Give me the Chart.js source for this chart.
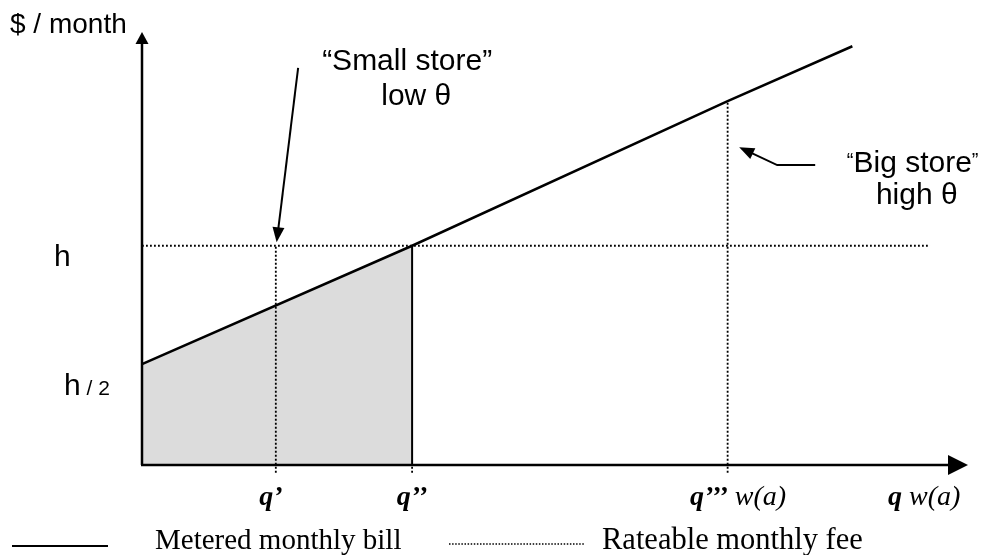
<!DOCTYPE html>
<html><head><meta charset="utf-8">
<script src="https://cdn.jsdelivr.net/npm/chart.js@4.4.0/dist/chart.umd.min.js"></script>
<style>html,body{margin:0;padding:0;background:#fff;}#wrap{width:991px;height:555px;position:relative;}</style>
</head><body><div id="wrap"><canvas id="c" width="991" height="555"></canvas></div>
<script>
// ---- data (quantity q on x, $/month on y, h = 1) ----
const meteredQ = [0, 3.27, 7.09, 8.6];
const meteredBill = [0.46, 1.0, 1.66, 1.91];
const shadedQ = [0, 3.27];
const shadedBill = [0.46, 1.0];
const rateableFee = [1.0, 1.0];
const rateableQ = [0, 9.54];
const markerQ = [1.62, 3.27, 7.09];
const markerTop = [1.0, 0.0, 1.66];
const markerLabels = ["q’", "q’’", "q’’’"];
const yTickValues = [1.0, 0.5];
const yTickLabels = ["h", "h / 2"];
const legendLabels = ["Metered monthly bill", "Rateable monthly fee"];

const X_MAX = 10, Y_MAX = 1.975, BELOW = -0.035;

const pts = (xs, ys) => xs.map((x, i) => ({x, y: ys[i]}));
const DOT = [1.8, 2.2];

const datasets = [
  {data: pts(meteredQ, meteredBill), borderColor: '#000', borderWidth: 2.5, pointRadius: 0, showLine: true, order: 1, clip: false},
  {data: [{x: shadedQ[1], y: 0}, {x: shadedQ[1], y: shadedBill[1]}], borderColor: '#000', borderWidth: 2, pointRadius: 0, showLine: true, order: 2, clip: false},
  {data: pts(rateableQ, rateableFee), borderColor: '#000', borderWidth: 1.8, borderDash: DOT, pointRadius: 0, showLine: true, order: 3, clip: false},
  {data: pts(shadedQ, shadedBill), borderWidth: 0, borderColor: 'rgba(0,0,0,0)', backgroundColor: '#dcdcdc', fill: 'origin', pointRadius: 0, showLine: true, order: 10}
];
markerQ.forEach((q, i) => {
  datasets.push({data: [{x: q, y: BELOW}, {x: q, y: markerTop[i]}], borderColor: '#000', borderWidth: 1.8, borderDash: DOT, pointRadius: 0, showLine: true, order: 4, clip: false});
});

function arrowHead(ctx, tx, ty, fx, fy, len, half) {
  const a = Math.atan2(ty - fy, tx - fx);
  ctx.beginPath();
  ctx.moveTo(tx, ty);
  ctx.lineTo(tx - len * Math.cos(a) + half * Math.sin(a), ty - len * Math.sin(a) - half * Math.cos(a));
  ctx.lineTo(tx - len * Math.cos(a) - half * Math.sin(a), ty - len * Math.sin(a) + half * Math.cos(a));
  ctx.closePath();
  ctx.fill();
}
function toward(tx, ty, fx, fy, d) {
  const a = Math.atan2(fy - ty, fx - tx);
  return [tx + d * Math.cos(a), ty + d * Math.sin(a)];
}

const overlay = {
  id: 'overlay',
  afterDatasetsDraw(chart) {
    const ctx = chart.ctx, xs = chart.scales.x, ys = chart.scales.y;
    const X = v => xs.getPixelForValue(v), Y = v => ys.getPixelForValue(v);
    const ca = chart.chartArea;
    ctx.save();
    ctx.fillStyle = '#000'; ctx.strokeStyle = '#000';
    // axes
    ctx.lineWidth = 2.5;
    ctx.beginPath(); ctx.moveTo(X(0), Y(0)); ctx.lineTo(X(0), ca.top + 10); ctx.stroke();
    arrowHead(ctx, X(0), ca.top, X(0), ca.top + 20, 12, 6.5);
    ctx.beginPath(); ctx.moveTo(X(0) - 1, Y(0)); ctx.lineTo(ca.right - 12, Y(0)); ctx.stroke();
    arrowHead(ctx, ca.right, Y(0), ca.right - 20, Y(0), 20, 10);

    // annotation arrows
    ctx.lineWidth = 2;
    const sA = [[1.89, 1.811], [1.63, 1.016]];
    let p0 = [X(sA[0][0]), Y(sA[0][1])], p1 = [X(sA[1][0]), Y(sA[1][1])];
    let e = toward(p1[0], p1[1], p0[0], p0[1], 8);
    ctx.beginPath(); ctx.moveTo(p0[0], p0[1]); ctx.lineTo(e[0], e[1]); ctx.stroke();
    arrowHead(ctx, p1[0], p1[1], p0[0], p0[1], 15, 6);
    const bA = [[8.15, 1.368], [7.69, 1.368], [7.23, 1.449]];
    const b0 = [X(bA[0][0]), Y(bA[0][1])], b1 = [X(bA[1][0]), Y(bA[1][1])], b2 = [X(bA[2][0]), Y(bA[2][1])];
    e = toward(b2[0], b2[1], b1[0], b1[1], 8);
    ctx.beginPath(); ctx.moveTo(b0[0], b0[1]); ctx.lineTo(b1[0], b1[1]); ctx.lineTo(e[0], e[1]); ctx.stroke();
    arrowHead(ctx, b2[0], b2[1], b1[0], b1[1], 15, 6);

    // texts (sans)
    ctx.textBaseline = 'middle';
    ctx.textAlign = 'left';
    ctx.font = '28px "Liberation Sans", Arial, sans-serif';
    ctx.fillText('$ / month', 10, 25);
    ctx.textAlign = 'center';
    ctx.font = '30px "Liberation Sans", Arial, sans-serif';
    ctx.fillText('“Small store”', X(3.21), Y(1.838));
    ctx.fillText('low θ', X(3.32), Y(1.679));
    // Big store with small quotes
    const bx = X(9.33), by = Y(1.372);
    const main = 'Big store';
    const wMain = ctx.measureText(main).width;
    ctx.font = '20px "Liberation Sans", Arial, sans-serif';
    const wq = ctx.measureText('“').width;
    const total = wMain + 2 * wq;
    let sx = bx - total / 2;
    ctx.textAlign = 'left';
    ctx.fillText('“', sx, by - 3);
    ctx.font = '30px "Liberation Sans", Arial, sans-serif';
    ctx.fillText(main, sx + wq, by);
    ctx.font = '20px "Liberation Sans", Arial, sans-serif';
    ctx.fillText('”', sx + wq + wMain, by - 3);
    ctx.textAlign = 'center';
    ctx.font = '30px "Liberation Sans", Arial, sans-serif';
    ctx.fillText('high θ', X(9.38), Y(1.23));

    // y tick labels
    ctx.textAlign = 'left';
    ctx.textBaseline = 'alphabetic';
    ctx.font = '30px "Liberation Sans", Arial, sans-serif';
    ctx.fillText(yTickLabels[0], 54, Y(yTickValues[0]) + 20);
    const parts = yTickLabels[1].split(' / ');
    const hy = Y(yTickValues[1]) + 40;
    ctx.fillText(parts[0], 64, hy);
    const hw = ctx.measureText(parts[0]).width;
    ctx.font = '21px "Liberation Sans", Arial, sans-serif';
    ctx.fillText(' / ' + parts[1], 64 + hw, hy);

    // x labels
    const bi = 'bold italic 28px "Liberation Serif", "Times New Roman", serif';
    const it = 'italic 28px "Liberation Serif", "Times New Roman", serif';
    const ly = 505;
    ctx.textAlign = 'center';
    ctx.font = bi;
    ctx.fillText(markerLabels[0], X(markerQ[0]) - 5, ly);
    ctx.fillText(markerLabels[1], X(markerQ[1]), ly);
    ctx.textAlign = 'left';
    ctx.fillText(markerLabels[2], 690, ly);
    const w3 = ctx.measureText(markerLabels[2]).width;
    ctx.font = it;
    ctx.fillText(' w(a)', 690 + w3, ly);
    ctx.font = bi;
    ctx.fillText('q', 888, ly);
    const wqq = ctx.measureText('q').width;
    ctx.font = it;
    ctx.fillText(' w(a)', 888 + wqq, ly);

    // legend
    ctx.lineWidth = 2;
    ctx.setLineDash([]);
    ctx.beginPath(); ctx.moveTo(12, 546); ctx.lineTo(108, 546); ctx.stroke();
    ctx.lineWidth = 1.5;
    ctx.setLineDash([1.5, 1.6]);
    ctx.beginPath(); ctx.moveTo(449, 544); ctx.lineTo(584, 544); ctx.stroke();
    ctx.setLineDash([]);
    ctx.font = '29px "Liberation Serif", "Times New Roman", serif';
    ctx.fillText(legendLabels[0], 155, 549);
    ctx.font = '30.5px "Liberation Serif", "Times New Roman", serif';
    ctx.fillText(legendLabels[1], 602, 549);
    ctx.restore();
  }
};

new Chart(document.getElementById('c'), {
  type: 'scatter',
  data: {datasets},
  options: {
    responsive: false, animation: false, devicePixelRatio: 1,
    layout: {padding: {left: 142, right: 23, top: 32, bottom: 90}},
    scales: {
      x: {type: 'linear', min: 0, max: X_MAX, display: false},
      y: {type: 'linear', min: 0, max: Y_MAX, display: false}
    },
    plugins: {legend: {display: false}, tooltip: {enabled: false}}
  },
  plugins: [overlay]
});
</script></body></html>
